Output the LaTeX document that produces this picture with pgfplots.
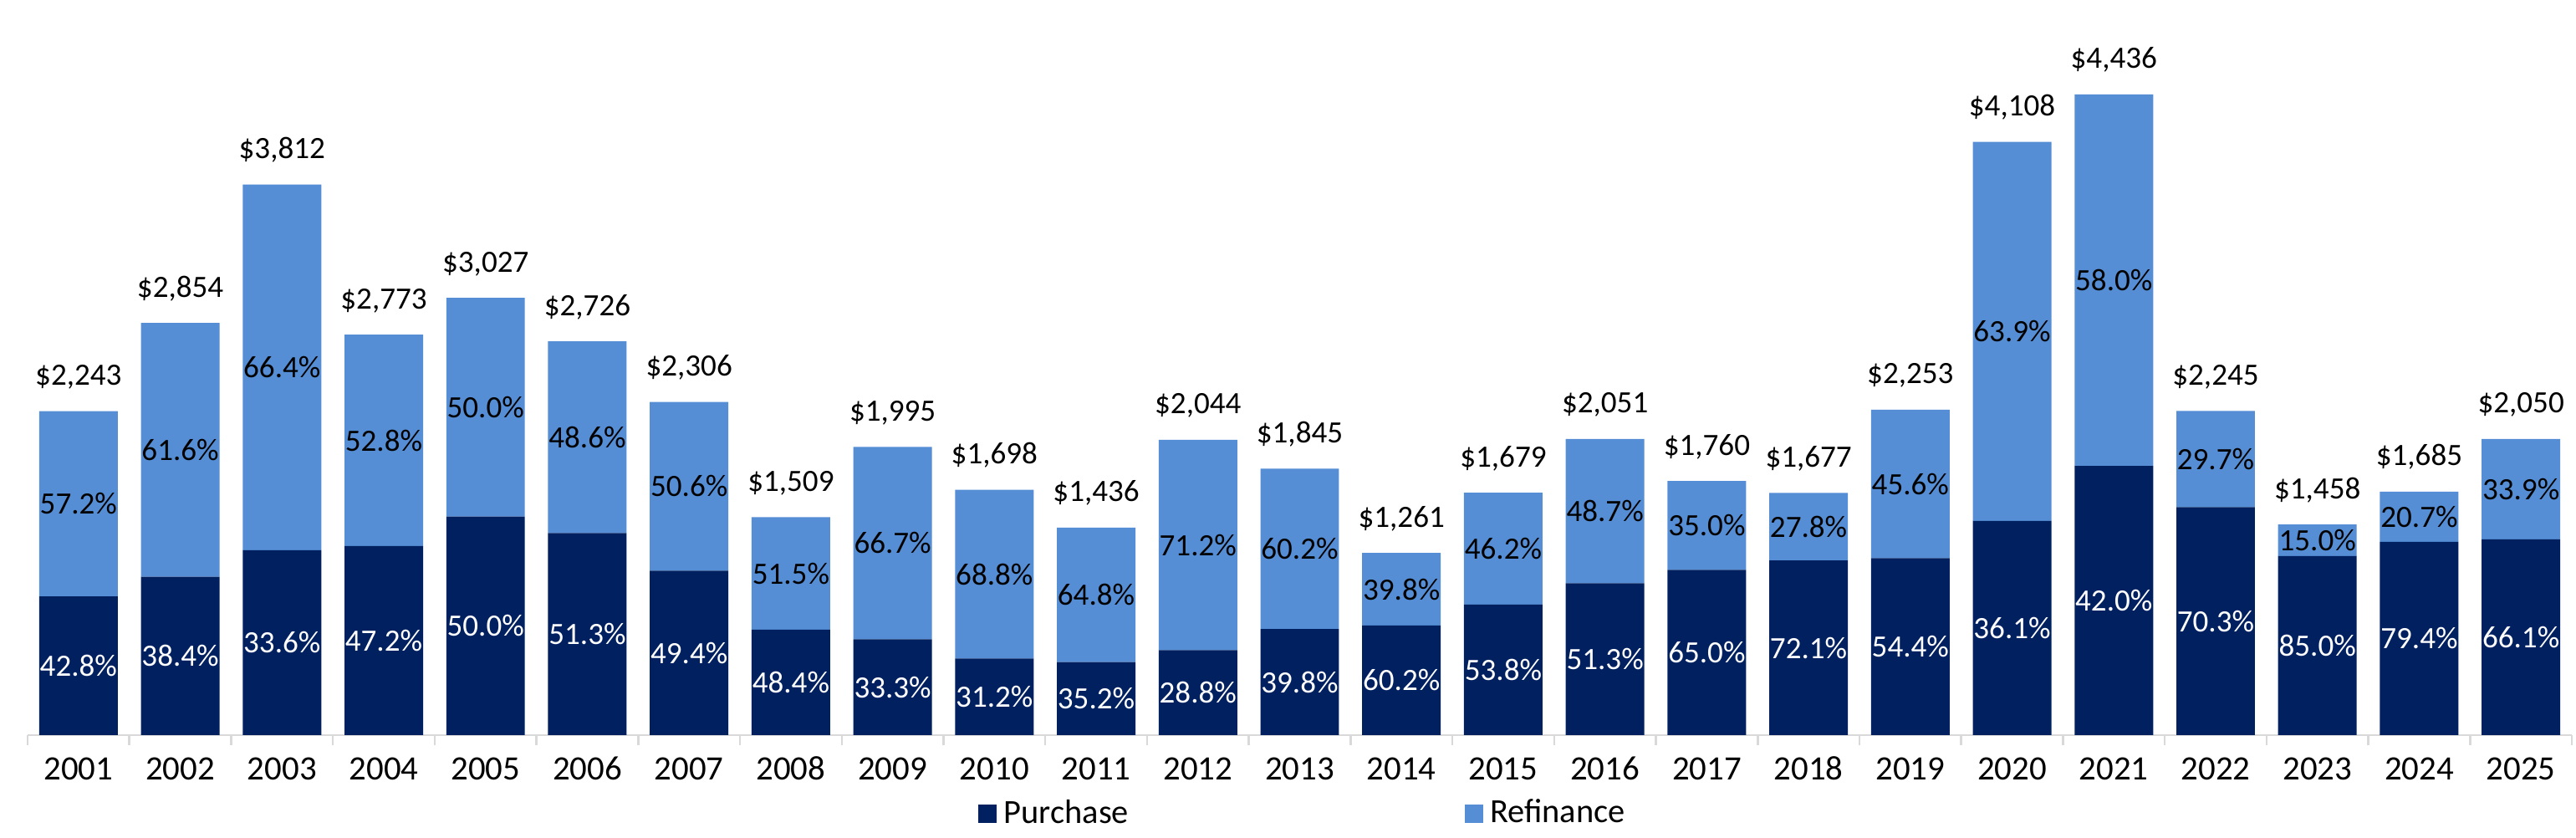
\documentclass[border=0pt]{standalone}
\usepackage{fontspec}
\setmainfont{Carlito}
\usepackage{pgfplots}
\usepackage{pgfplotstable}
\pgfplotsset{compat=1.18}
\definecolor{navy}{HTML}{002060}
\definecolor{lblue}{HTML}{558ED5}
\definecolor{axgray}{HTML}{D9D9D9}

\pgfplotstableread{
i year pur ref totl ppct rpct
0 2001 960.0 1283.0 2,243 42.8 57.2
1 2002 1095.9 1758.1 2,854 38.4 61.6
2 2003 1280.8 2531.2 3,812 33.6 66.4
3 2004 1308.9 1464.1 2,773 47.2 52.8
4 2005 1513.5 1513.5 3,027 50.0 50.0
5 2006 1398.4 1327.6 2,726 51.3 48.6
6 2007 1139.2 1166.8 2,306 49.4 50.6
7 2008 730.4 778.6 1,509 48.4 51.5
8 2009 664.3 1330.7 1,995 33.3 66.7
9 2010 529.8 1168.2 1,698 31.2 68.8
10 2011 505.5 930.5 1,436 35.2 64.8
11 2012 588.7 1455.3 2,044 28.8 71.2
12 2013 734.3 1110.7 1,845 39.8 60.2
13 2014 759.1 501.9 1,261 60.2 39.8
14 2015 903.3 775.7 1,679 53.8 46.2
15 2016 1052.2 998.8 2,051 51.3 48.7
16 2017 1144.0 616.0 1,760 65.0 35.0
17 2018 1209.1 467.9 1,677 72.1 27.8
18 2019 1225.6 1027.4 2,253 54.4 45.6
19 2020 1483.0 2625.0 4,108 36.1 63.9
20 2021 1863.1 2572.9 4,436 42.0 58.0
21 2022 1578.2 666.8 2,245 70.3 29.7
22 2023 1239.3 218.7 1,458 85.0 15.0
23 2024 1337.9 347.1 1,685 79.4 20.7
24 2025 1355.1 694.9 2,050 66.1 33.9
}\mortgage

\pgfplotsset{common/.style={
  scale only axis, width=730.32pt, height=207.24pt,
  xmin=-0.5, xmax=24.5, ymin=0, ymax=5000, enlargelimits=false,
  at={(0pt,0pt)}, anchor=south west}}

\begin{document}
\begin{tikzpicture}
\useasboundingbox (-7.92pt,-29.52pt) rectangle (731.52pt,210.96pt);
\begin{axis}[common,
  ybar stacked, bar width=0.772,
  axis y line=none, axis x line*=bottom,
  x axis line style={draw=axgray, line width=0.65pt},
  xtick={0,...,24},
  xticklabels={2001,2002,2003,2004,2005,2006,2007,2008,2009,2010,2011,2012,2013,2014,2015,2016,2017,2018,2019,2020,2021,2022,2023,2024,2025},
  major tick length=0pt,
  minor xtick={-0.5,0.5,...,24.5},
  minor tick length=3.0pt,
  tick align=outside,
  every minor tick/.append style={draw=axgray, line width=0.6pt},
  xticklabel style={font=\fontsize{9.8}{12}\selectfont, anchor=base, yshift=-12.9pt, text=black},
  legend image code/.code={\fill[#1] (0pt,-2.64pt) rectangle (5.28pt,2.64pt);},
  legend columns=2,
  legend style={draw=none, fill=none, at={(0.5022,-0.109)}, anchor=center,
    font=\fontsize{9.7}{12}\selectfont, inner sep=0pt,
    /tikz/every even column/.append style={column sep=94.5pt}},
]
\addplot[fill=navy, draw=none] table[x=i, y=pur]{\mortgage};
\addlegendentry{Purchase}
\addplot[fill=lblue, draw=none] table[x=i, y=ref]{\mortgage};
\addlegendentry{Refinance}
\end{axis}

\begin{axis}[common, hide axis]
\addplot[draw=none, mark=none, point meta=explicit symbolic,
  nodes near coords={\pgfplotspointmeta\%},
  every node near coord/.append style={anchor=center, text=white, font=\fontsize{8.9}{11}\selectfont}]
  table[x=i, y expr=\thisrow{pur}/2, meta=ppct]{\mortgage};
\addplot[draw=none, mark=none, point meta=explicit symbolic,
  nodes near coords={\pgfplotspointmeta\%},
  every node near coord/.append style={anchor=center, text=black, font=\fontsize{8.9}{11}\selectfont}]
  table[x=i, y expr=\thisrow{pur}+\thisrow{ref}/2, meta=rpct]{\mortgage};
\addplot[draw=none, mark=none, point meta=explicit symbolic,
  nodes near coords={\$\pgfplotspointmeta},
  every node near coord/.append style={anchor=base, yshift=7.44pt, text=black, font=\fontsize{8.9}{11}\selectfont}]
  table[x=i, y expr=\thisrow{pur}+\thisrow{ref}, meta=totl]{\mortgage};
\end{axis}
\end{tikzpicture}
\end{document}
